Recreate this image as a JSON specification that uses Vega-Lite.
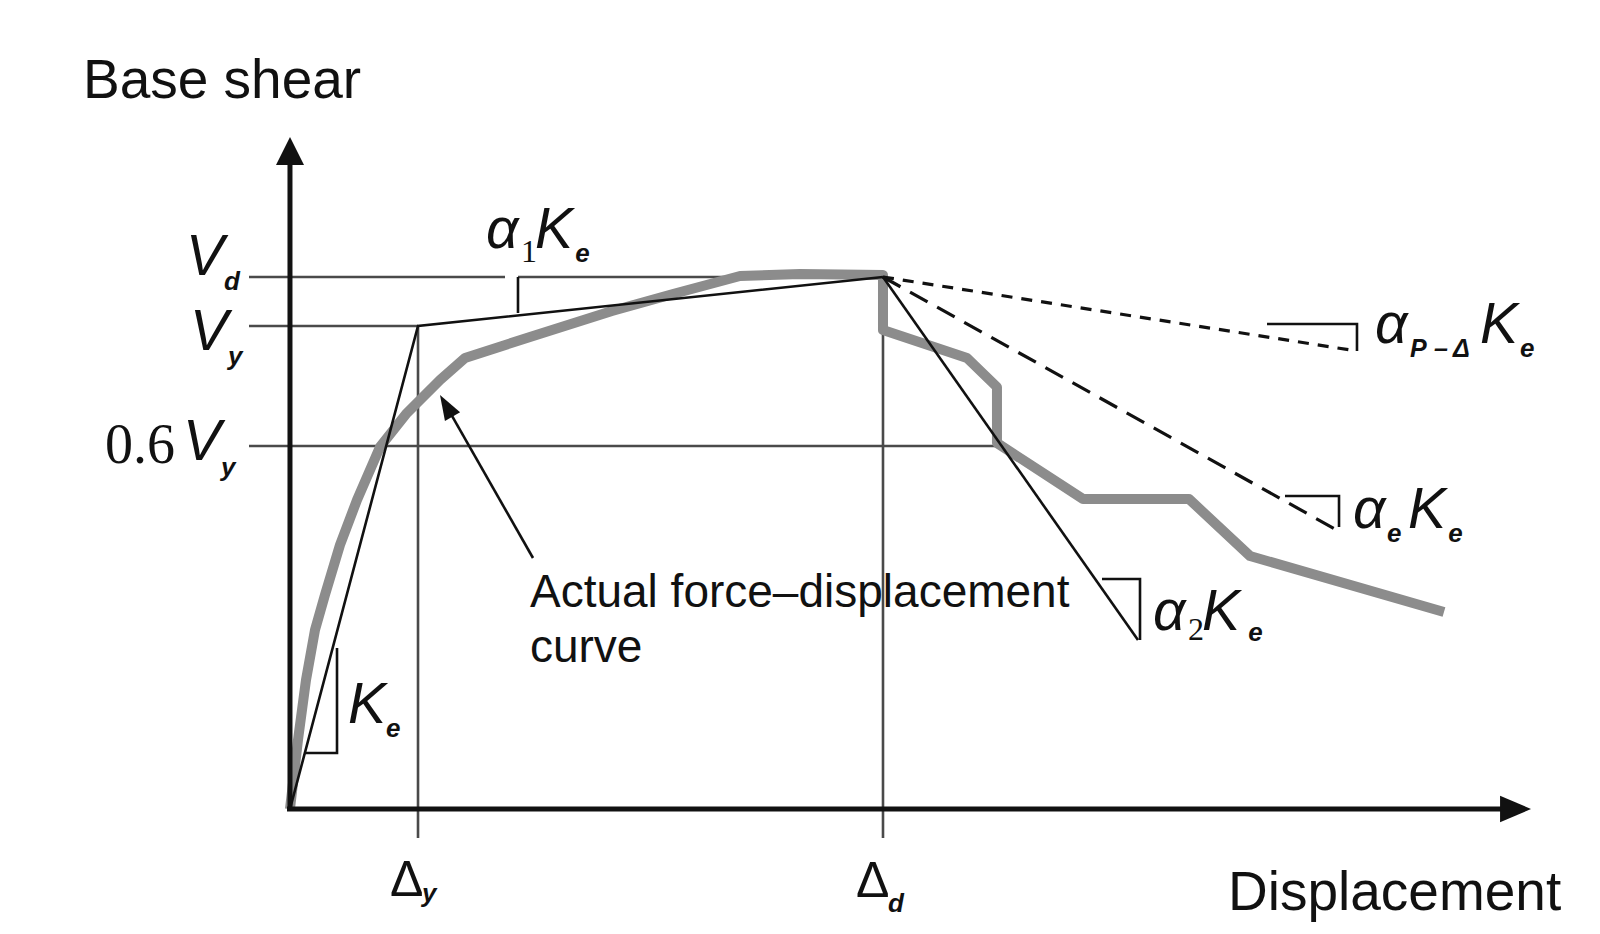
{
  "$schema": "https://vega.github.io/schema/vega-lite/v6.json",
  "width": 1600,
  "height": 934,
  "autosize": {"type": "fit", "contains": "padding"},
  "padding": 0,
  "background": "white",
  "config": {"view": {"stroke": null}},
  "datasets": {
    "segs": [
      {"id": "r1", "g": "ref", "o": 0, "x": -0.691, "y": 100},
      {"id": "r1", "g": "ref", "o": 1, "x": 3.626, "y": 100},
      {"id": "r1b", "g": "ref", "o": 0, "x": 3.845, "y": 100},
      {"id": "r1b", "g": "ref", "o": 1, "x": 10, "y": 100},
      {"id": "r2", "g": "ref", "o": 0, "x": -0.691, "y": 90.79},
      {"id": "r2", "g": "ref", "o": 1, "x": 2.159, "y": 90.79},
      {"id": "r3", "g": "ref", "o": 0, "x": -0.691, "y": 68.23},
      {"id": "r3", "g": "ref", "o": 1, "x": 11.922, "y": 68.23},
      {"id": "r4", "g": "ref", "o": 0, "x": 2.159, "y": 90.79},
      {"id": "r4", "g": "ref", "o": 1, "x": 2.159, "y": -5.45},
      {"id": "r5", "g": "ref", "o": 0, "x": 10, "y": 100},
      {"id": "r5", "g": "ref", "o": 1, "x": 10, "y": -5.45},

      {"id": "g1", "g": "gray", "o": 0, "x": 0, "y": 0},
      {"id": "g1", "g": "gray", "o": 1, "x": 0.135, "y": 12.97},
      {"id": "g1", "g": "gray", "o": 2, "x": 0.27, "y": 24.25},
      {"id": "g1", "g": "gray", "o": 3, "x": 0.422, "y": 33.65},
      {"id": "g1", "g": "gray", "o": 4, "x": 0.59, "y": 40.23},
      {"id": "g1", "g": "gray", "o": 5, "x": 0.843, "y": 49.62},
      {"id": "g1", "g": "gray", "o": 6, "x": 1.13, "y": 58.08},
      {"id": "g1", "g": "gray", "o": 7, "x": 1.518, "y": 68.05},
      {"id": "g1", "g": "gray", "o": 8, "x": 1.973, "y": 74.44},
      {"id": "g1", "g": "gray", "o": 9, "x": 2.53, "y": 80.64},
      {"id": "g1", "g": "gray", "o": 10, "x": 2.951, "y": 84.77},
      {"id": "g1", "g": "gray", "o": 11, "x": 4.047, "y": 88.72},
      {"id": "g1", "g": "gray", "o": 12, "x": 5.43, "y": 93.61},
      {"id": "g1", "g": "gray", "o": 13, "x": 6.459, "y": 96.8},
      {"id": "g1", "g": "gray", "o": 14, "x": 7.589, "y": 100.19},
      {"id": "g1", "g": "gray", "o": 15, "x": 8.6, "y": 100.56},
      {"id": "g1", "g": "gray", "o": 16, "x": 10, "y": 100.38},
      {"id": "g1", "g": "gray", "o": 17, "x": 10, "y": 90.04},
      {"id": "g1", "g": "gray", "o": 18, "x": 11.417, "y": 84.77},
      {"id": "g1", "g": "gray", "o": 19, "x": 11.922, "y": 79.32},
      {"id": "g1", "g": "gray", "o": 20, "x": 11.922, "y": 68.8},
      {"id": "g1", "g": "gray", "o": 21, "x": 13.373, "y": 58.27},
      {"id": "g1", "g": "gray", "o": 22, "x": 15.16, "y": 58.27},
      {"id": "g1", "g": "gray", "o": 23, "x": 16.189, "y": 47.56},
      {"id": "g1", "g": "gray", "o": 24, "x": 19.46, "y": 37.03},

      {"id": "t1", "g": "thin", "o": 0, "x": 0, "y": 0},
      {"id": "t1", "g": "thin", "o": 1, "x": 2.159, "y": 90.79},
      {"id": "t1", "g": "thin", "o": 2, "x": 10, "y": 100},
      {"id": "t2", "g": "thin", "o": 0, "x": 0.25, "y": 10.53},
      {"id": "t2", "g": "thin", "o": 1, "x": 0.793, "y": 10.53},
      {"id": "t2", "g": "thin", "o": 2, "x": 0.793, "y": 30.26},
      {"id": "t3", "g": "thin", "o": 0, "x": 3.845, "y": 100},
      {"id": "t3", "g": "thin", "o": 1, "x": 3.845, "y": 93.23},
      {"id": "t4", "g": "thin", "o": 0, "x": 10, "y": 100},
      {"id": "t4", "g": "thin", "o": 1, "x": 14.3, "y": 31.77},
      {"id": "t5", "g": "thin", "o": 0, "x": 13.693, "y": 43.23},
      {"id": "t5", "g": "thin", "o": 1, "x": 14.334, "y": 43.23},
      {"id": "t5", "g": "thin", "o": 2, "x": 14.334, "y": 31.77},
      {"id": "t6", "g": "thin", "o": 0, "x": 16.779, "y": 58.83},
      {"id": "t6", "g": "thin", "o": 1, "x": 17.69, "y": 58.83},
      {"id": "t6", "g": "thin", "o": 2, "x": 17.69, "y": 53.01},
      {"id": "t7", "g": "thin", "o": 0, "x": 16.476, "y": 91.17},
      {"id": "t7", "g": "thin", "o": 1, "x": 17.993, "y": 91.17},
      {"id": "t7", "g": "thin", "o": 2, "x": 17.993, "y": 86.09},
      {"id": "ptr", "g": "thin", "o": 0, "x": 4.098, "y": 47.18},
      {"id": "ptr", "g": "thin", "o": 1, "x": 2.631, "y": 75.86},

      {"id": "e1", "g": "dashE", "o": 0, "x": 10, "y": 100},
      {"id": "e1", "g": "dashE", "o": 1, "x": 17.622, "y": 52.63},
      {"id": "p1", "g": "dashP", "o": 0, "x": 10, "y": 100},
      {"id": "p1", "g": "dashP", "o": 1, "x": 17.993, "y": 86.09},

      {"id": "a1", "g": "axis", "o": 0, "x": 0, "y": -0.3},
      {"id": "a1", "g": "axis", "o": 1, "x": 0, "y": 123.87},
      {"id": "a2", "g": "axis", "o": 0, "x": -0.05, "y": 0},
      {"id": "a2", "g": "axis", "o": 1, "x": 20.489, "y": 0}
    ],
    "heads": [
      {"k": "up", "x": 0, "y": 126.32},
      {"k": "right", "x": 20.928, "y": 0},
      {"k": "ptr", "x": 2.53, "y": 77.82}
    ],
    "labels": [
      {"k": "title", "t": "Base shear", "x": -3.491, "y": 133.65},
      {"k": "title", "t": "Displacement", "x": 15.818, "y": -18.98},
      {"k": "note", "t": "Actual force–displacement", "x": 4.047, "y": 37.97},
      {"k": "note", "t": "curve", "x": 4.047, "y": 27.63},
      {"k": "math", "t": "α", "x": 3.305, "y": 105.45},
      {"k": "subnum", "t": "1", "x": 3.895, "y": 102.82},
      {"k": "math", "t": "K", "x": 4.132, "y": 105.45},
      {"k": "sub", "t": "e", "x": 4.81, "y": 102.82},
      {"k": "math", "t": "α", "x": 18.297, "y": 87.59},
      {"k": "subsm", "t": "P", "x": 18.887, "y": 84.96},
      {"k": "subsm", "t": "–", "x": 19.292, "y": 84.96},
      {"k": "subsm", "t": "Δ", "x": 19.612, "y": 84.96},
      {"k": "math", "t": "K", "x": 20.067, "y": 87.59},
      {"k": "sub", "t": "e", "x": 20.742, "y": 84.96},
      {"k": "math", "t": "α", "x": 17.926, "y": 52.82},
      {"k": "sub", "t": "e", "x": 18.5, "y": 50.19},
      {"k": "math", "t": "K", "x": 18.853, "y": 52.82},
      {"k": "sub", "t": "e", "x": 19.53, "y": 50.19},
      {"k": "math", "t": "α", "x": 14.553, "y": 33.65},
      {"k": "subnum", "t": "2", "x": 15.143, "y": 31.77},
      {"k": "math", "t": "K", "x": 15.38, "y": 33.65},
      {"k": "sub", "t": "e", "x": 16.16, "y": 31.58},
      {"k": "math", "t": "K", "x": 0.978, "y": 16.17},
      {"k": "sub", "t": "e", "x": 1.62, "y": 13.53},
      {"k": "math", "t": "V", "x": -1.754, "y": 100.38},
      {"k": "sub", "t": "d", "x": -1.113, "y": 97.56},
      {"k": "math", "t": "V", "x": -1.686, "y": 86.28},
      {"k": "sub", "t": "y", "x": -1.046, "y": 83.46},
      {"k": "serif", "t": "0.6", "x": -3.12, "y": 65.04},
      {"k": "math", "t": "V", "x": -1.804, "y": 65.6},
      {"k": "sub", "t": "y", "x": -1.164, "y": 62.59},
      {"k": "delta", "t": "Δ", "x": 1.686, "y": -16.35},
      {"k": "sub", "t": "y", "x": 2.225, "y": -17.48},
      {"k": "delta", "t": "Δ", "x": 9.545, "y": -16.54},
      {"k": "sub", "t": "d", "x": 10.084, "y": -19.36}
    ]
  },
  "encoding": {
    "x": {"field": "x", "type": "quantitative", "scale": {"domain": [-4.89, 22.091], "nice": false, "zero": false}, "axis": null},
    "y": {"field": "y", "type": "quantitative", "scale": {"domain": [-23.496, 152.068], "nice": false, "zero": false}, "axis": null}
  },
  "layer": [
    {
      "data": {"name": "segs"},
      "transform": [{"filter": "datum.g === 'ref'"}],
      "mark": {"type": "line", "color": "#4a4a4a", "strokeWidth": 2.6},
      "encoding": {"detail": {"field": "id"}, "order": {"field": "o"}}
    },
    {
      "data": {"name": "segs"},
      "transform": [{"filter": "datum.g === 'gray'"}],
      "mark": {"type": "line", "color": "#8c8c8c", "strokeWidth": 10, "strokeJoin": "round"},
      "encoding": {"detail": {"field": "id"}, "order": {"field": "o"}}
    },
    {
      "data": {"name": "segs"},
      "transform": [{"filter": "datum.g === 'thin'"}],
      "mark": {"type": "line", "color": "#111111", "strokeWidth": 2.6},
      "encoding": {"detail": {"field": "id"}, "order": {"field": "o"}}
    },
    {
      "data": {"name": "segs"},
      "transform": [{"filter": "datum.g === 'dashE'"}],
      "mark": {"type": "line", "color": "#111111", "strokeWidth": 3.2, "strokeDash": [20, 11]},
      "encoding": {"detail": {"field": "id"}, "order": {"field": "o"}}
    },
    {
      "data": {"name": "segs"},
      "transform": [{"filter": "datum.g === 'dashP'"}],
      "mark": {"type": "line", "color": "#111111", "strokeWidth": 3.2, "strokeDash": [11, 9]},
      "encoding": {"detail": {"field": "id"}, "order": {"field": "o"}}
    },
    {
      "data": {"name": "segs"},
      "transform": [{"filter": "datum.g === 'axis'"}],
      "mark": {"type": "line", "color": "#111111", "strokeWidth": 5},
      "encoding": {"detail": {"field": "id"}, "order": {"field": "o"}}
    },
    {
      "data": {"name": "heads"},
      "transform": [{"filter": "datum.k === 'up'"}],
      "mark": {"type": "point", "shape": "M0,0L1,2L-1,2Z", "size": 784, "filled": true, "color": "#111111", "opacity": 1}
    },
    {
      "data": {"name": "heads"},
      "transform": [{"filter": "datum.k === 'right'"}],
      "mark": {"type": "point", "shape": "M0,0L-2,-0.85L-2,0.85Z", "size": 961, "filled": true, "color": "#111111", "opacity": 1}
    },
    {
      "data": {"name": "heads"},
      "transform": [{"filter": "datum.k === 'ptr'"}],
      "mark": {"type": "point", "shape": "M0,0L0.7,2L-0.7,2Z", "size": 625, "angle": -30, "filled": true, "color": "#111111", "opacity": 1}
    },
    {
      "data": {"name": "labels"},
      "transform": [{"filter": "datum.k === 'title'"}],
      "mark": {"type": "text", "align": "left", "baseline": "alphabetic", "font": "Liberation Sans", "fontSize": 55, "color": "#111111"},
      "encoding": {"text": {"field": "t"}}
    },
    {
      "data": {"name": "labels"},
      "transform": [{"filter": "datum.k === 'note'"}],
      "mark": {"type": "text", "align": "left", "baseline": "alphabetic", "font": "Liberation Sans", "fontSize": 46, "color": "#111111"},
      "encoding": {"text": {"field": "t"}}
    },
    {
      "data": {"name": "labels"},
      "transform": [{"filter": "datum.k === 'math'"}],
      "mark": {"type": "text", "align": "left", "baseline": "alphabetic", "font": "Liberation Sans", "fontStyle": "italic", "fontSize": 57, "color": "#111111"},
      "encoding": {"text": {"field": "t"}}
    },
    {
      "data": {"name": "labels"},
      "transform": [{"filter": "datum.k === 'sub'"}],
      "mark": {"type": "text", "align": "left", "baseline": "alphabetic", "font": "Liberation Sans", "fontStyle": "italic", "fontWeight": "bold", "fontSize": 26, "color": "#111111"},
      "encoding": {"text": {"field": "t"}}
    },
    {
      "data": {"name": "labels"},
      "transform": [{"filter": "datum.k === 'subsm'"}],
      "mark": {"type": "text", "align": "left", "baseline": "alphabetic", "font": "Liberation Sans", "fontStyle": "italic", "fontWeight": "bold", "fontSize": 25, "color": "#111111"},
      "encoding": {"text": {"field": "t"}}
    },
    {
      "data": {"name": "labels"},
      "transform": [{"filter": "datum.k === 'subnum'"}],
      "mark": {"type": "text", "align": "left", "baseline": "alphabetic", "font": "Liberation Serif", "fontSize": 32, "color": "#111111"},
      "encoding": {"text": {"field": "t"}}
    },
    {
      "data": {"name": "labels"},
      "transform": [{"filter": "datum.k === 'serif'"}],
      "mark": {"type": "text", "align": "left", "baseline": "alphabetic", "font": "Liberation Serif", "fontSize": 56, "color": "#111111"},
      "encoding": {"text": {"field": "t"}}
    },
    {
      "data": {"name": "labels"},
      "transform": [{"filter": "datum.k === 'delta'"}],
      "mark": {"type": "text", "align": "left", "baseline": "alphabetic", "font": "Liberation Sans", "fontSize": 50, "color": "#111111"},
      "encoding": {"text": {"field": "t"}}
    }
  ]
}
